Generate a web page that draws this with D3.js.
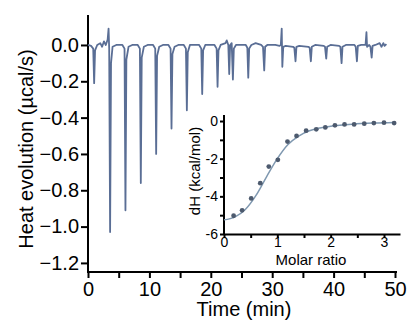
<!DOCTYPE html>
<html>
<head>
<meta charset="utf-8">
<script src="https://cdn.jsdelivr.net/npm/d3@7"></script>
<style>
  body { margin: 0; background: #fff; }
  svg { display: block; font-family: "Liberation Sans", Arial, sans-serif; }
  .axis path, .axis line { stroke: #000; stroke-width: 2; }
  .axis text { fill: #000; }
</style>
</head>
<body>
<svg id="chart" width="408" height="329"></svg>
<script>
// raw ITC trace, [time (min), heat (µcal/s)]
var trace = [
  [0.0, 0.0], [0.5, -0.005], [0.85, -0.02], [1.0, -0.21], [1.15, -0.03], [1.5, 0.0],
  [2.0, 0.01], [2.3, -0.01], [2.6, 0.02], [2.9, 0.0], [3.2, 0.03], [3.35, 0.09], [3.45, -0.02],
  [3.6, -1.03], [3.75, -0.1], [4.0, -0.01], [4.6, 0.0],
  [5.6, 0.0], [5.95, -0.02], [6.1, -0.91], [6.25, -0.08], [6.6, -0.01], [7.2, 0.0],
  [8.1, 0.0], [8.45, -0.02], [8.6, -0.76], [8.75, -0.07], [9.1, -0.01], [9.7, 0.0],
  [10.6, 0.0], [10.95, -0.02], [11.1, -0.60], [11.25, -0.06], [11.6, -0.01], [12.2, 0.0],
  [13.1, 0.0], [13.45, -0.02], [13.6, -0.46], [13.75, -0.05], [14.1, -0.01], [14.7, 0.0],
  [15.6, 0.0], [15.95, -0.02], [16.1, -0.36], [16.25, -0.04], [16.6, 0.0],
  [18.1, 0.0], [18.45, -0.02], [18.6, -0.27], [18.75, -0.03], [19.1, 0.0],
  [20.6, 0.0], [20.95, -0.02], [21.1, -0.23], [21.25, -0.03], [21.6, 0.0],
  [22.4, 0.01], [22.6, 0.025], [22.85, 0.0], [23.0, -0.16], [23.15, 0.0], [23.4, 0.01],
  [23.6, -0.19], [23.75, -0.02], [24.1, 0.0],
  [25.7, 0.0], [25.95, -0.015], [26.1, -0.18], [26.25, -0.02], [26.6, 0.0], [27.3, 0.01],
  [28.2, 0.0], [28.5, -0.01], [28.7, -0.14], [28.85, -0.01], [29.2, 0.0],
  [30.5, 0.0], [31.2, -0.005], [31.4, 0.0], [31.55, 0.09], [31.65, -0.12], [31.8, -0.01], [32.2, -0.005],
  [33.4, -0.01], [33.6, -0.015], [33.8, -0.09], [33.95, -0.01], [34.4, -0.005],
  [35.9, -0.01], [36.1, -0.015], [36.3, -0.09], [36.45, -0.01], [37.0, 0.0],
  [38.4, -0.005], [38.6, -0.01], [38.8, -0.075], [38.95, -0.01], [39.5, 0.0],
  [40.9, -0.005], [41.1, -0.01], [41.3, -0.10], [41.45, -0.01], [42.0, 0.0],
  [43.4, 0.0], [43.6, -0.01], [43.8, -0.09], [43.95, -0.005], [44.5, 0.0],
  [45.2, 0.0], [45.35, 0.07], [45.45, -0.01], [45.8, 0.0], [46.0, -0.01], [46.2, -0.07], [46.35, -0.005],
  [46.8, 0.0], [47.5, 0.01], [47.8, -0.01], [48.1, 0.01], [48.3, -0.005], [48.6, 0.005]
];

// integrated heats
var molarRatio = [0.18, 0.34, 0.51, 0.68, 0.84, 1.01, 1.19, 1.36, 1.54, 1.73, 1.90, 2.08, 2.26, 2.44, 2.63, 2.81, 3.0, 3.19];
var dH = [-5.03, -4.74, -4.11, -3.30, -2.42, -2.06, -1.09, -0.79, -0.51, -0.44, -0.34, -0.23, -0.18, -0.18, -0.14, -0.11, -0.09, -0.11];

// fitted binding curve
var fitRatio = [0, 0.2, 0.4, 0.6, 0.8, 1.0, 1.2, 1.4, 1.6, 1.8, 2.0, 2.4, 2.8, 3.2];
var fitDH = [-5.25, -5.1, -4.7, -3.95, -2.95, -2.0, -1.25, -0.8, -0.52, -0.37, -0.28, -0.17, -0.11, -0.08];

var timeTicks = [0, 5, 10, 15, 20, 25, 30, 35, 40, 45, 50];
var heatTicks = [0, -0.2, -0.4, -0.6, -0.8, -1.0, -1.2];
var ratioTicks = [0, 0.5, 1, 1.5, 2, 2.5, 3];
var dHTicks = [0, -1, -2, -3, -4, -5, -6];

var svg = d3.select("#chart");
var traceColor = "#5a6e95";

// main panel
var x = d3.scaleLinear().domain([0, 50]).range([88, 395]);
var y = d3.scaleLinear().domain([-1.25, 0.165]).range([272, 15]);

svg.append("g")
  .attr("class", "axis")
  .attr("transform", "translate(0,272)")
  .call(d3.axisBottom(x).tickValues(timeTicks).tickSize(6).tickSizeOuter(0)
    .tickFormat(function (d) { return d % 10 === 0 ? d : ""; }))
  .call(function (g) {
    g.select(".domain").attr("d", "M87,0H397");
    g.selectAll("text").attr("y", 10).attr("dy", "0.71em").style("font-size", "20px");
  });

svg.append("g")
  .attr("class", "axis")
  .attr("transform", "translate(88,0)")
  .call(d3.axisLeft(y).tickValues(heatTicks).tickSize(7).tickSizeOuter(0).tickFormat(d3.format(".1f")))
  .call(function (g) {
    g.select(".domain").attr("d", "M0,15V273");
    g.selectAll("text").attr("x", -9).style("font-size", "20px");
  });

var line = d3.line()
  .x(function (d) { return x(d[0]); })
  .y(function (d) { return y(d[1]); });

svg.append("path")
  .datum(trace)
  .attr("fill", "none")
  .attr("stroke", traceColor)
  .attr("stroke-width", 1.8)
  .attr("stroke-linejoin", "round")
  .attr("d", line);

svg.append("text")
  .attr("x", 244).attr("y", 316)
  .attr("text-anchor", "middle")
  .style("font-size", "20px")
  .text("Time (min)");

svg.append("text")
  .attr("transform", "translate(33,149)rotate(-90)")
  .attr("text-anchor", "middle")
  .style("font-size", "20px")
  .text("Heat evolution (µcal/s)");

// inset panel
var x2 = d3.scaleLinear().domain([0, 3.3]).range([224, 400]);
var y2 = d3.scaleLinear().domain([-6, 0.32]).range([234, 115]);

svg.append("g")
  .attr("class", "axis")
  .attr("transform", "translate(0,234)")
  .call(d3.axisBottom(x2).tickValues(ratioTicks).tickSize(4).tickSizeOuter(0)
    .tickFormat(function (d) { return d % 1 === 0 ? d : ""; }))
  .call(function (g) {
    g.selectAll("text").attr("y", 3).style("font-size", "14px");
  });

svg.append("g")
  .attr("class", "axis")
  .attr("transform", "translate(224,0)")
  .call(d3.axisLeft(y2).tickValues(dHTicks).tickSize(4).tickSizeOuter(0)
    .tickFormat(function (d) { return d % 2 === 0 ? d : ""; }))
  .call(function (g) {
    g.select(".domain").attr("d", "M0,115V235");
    g.selectAll("text").attr("x", -6).style("font-size", "14px");
  });

var fitLine = d3.line()
  .x(function (d, i) { return x2(fitRatio[i]); })
  .y(function (d) { return y2(d); })
  .curve(d3.curveMonotoneX);

svg.append("path")
  .datum(fitDH)
  .attr("fill", "none")
  .attr("stroke", "#7f98b0")
  .attr("stroke-width", 1.5)
  .attr("d", fitLine);

svg.selectAll(".pt")
  .data(dH)
  .enter().append("circle")
  .attr("class", "pt")
  .attr("cx", function (d, i) { return x2(molarRatio[i]); })
  .attr("cy", function (d) { return y2(d); })
  .attr("r", 2.4)
  .attr("fill", "#4d5a6e");

svg.append("text")
  .attr("x", 311).attr("y", 265)
  .attr("text-anchor", "middle")
  .style("font-size", "15px")
  .text("Molar ratio");

svg.append("text")
  .attr("transform", "translate(200,171)rotate(-90)")
  .attr("text-anchor", "middle")
  .style("font-size", "15px")
  .text("dH (kcal/mol)");
</script>
</body>
</html>
